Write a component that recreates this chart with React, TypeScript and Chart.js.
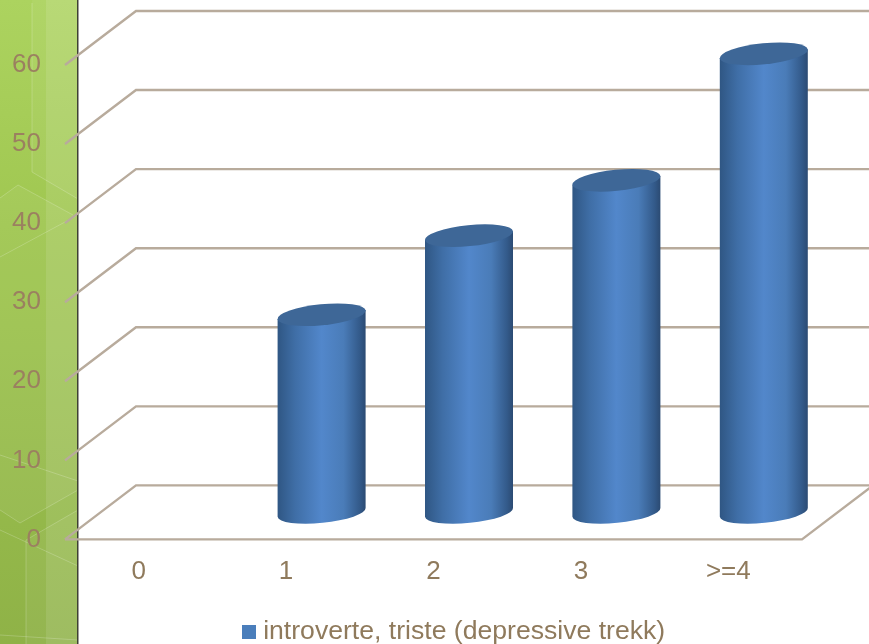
import React, { useEffect, useRef } from "react";
import { Chart, registerables } from "chart.js";

Chart.register(...registerables);

const categories = ["0", "1", "2", "3", ">=4"];
const seriesName = "introverte, triste (depressive trekk)";
const seriesValues = [null, 25, 35, 42, 58];
const axisTicks = [0, 10, 20, 30, 40, 50, 60];

const LABEL_FONT = "'Liberation Sans', Arial, sans-serif";
const LABEL_COLOR = "#8f7a5c";
const VALUE_TICK_COLOR = "#9b8060";
const GRID_COLOR = "#b8ab9c";
const SERIES_COLOR = "#4a7ebb";

// Depth of the pseudo-3D floor, front edge to back wall.
const DEPTH_X = 71;
const DEPTH_Y = 54;
const PANEL_WIDTH = 78;

// Lighter hexagon facets on the side panel, clipped by its edges.
const panelFacets: number[][][] = [
  [[32, 0], [32, 172], [78, 199], [78, 0]],
  [[0, 198], [18, 185], [78, 218], [78, 490], [20, 523], [0, 510]],
  [[26, 540], [78, 510], [78, 644], [26, 644]],
];

// Thin outlines on the side panel: polylines of [x, y].
const panelLines: number[][][] = [
  [[32, 3], [32, 172], [78, 199]],
  [[0, 198], [18, 185], [73, 215]],
  [[0, 257], [78, 215]],
  [[0, 455], [78, 481]],
  [[0, 510], [20, 523], [78, 490]],
  [[26, 540], [78, 510]],
  [[0, 530], [78, 566]],
  [[26, 540], [26, 644]],
  [[0, 635], [78, 640]],
];

function tracePolyline(ctx: CanvasRenderingContext2D, points: number[][]) {
  ctx.beginPath();
  points.forEach(([x, y], i) => (i ? ctx.lineTo(x, y) : ctx.moveTo(x, y)));
}

const sidePanel = {
  id: "sidePanel",
  beforeDraw(chart: any) {
    const { ctx, height } = chart;
    ctx.save();
    const fill = ctx.createLinearGradient(0, 0, 0, height);
    fill.addColorStop(0, "#acd35f");
    fill.addColorStop(0.35, "#a0c751");
    fill.addColorStop(1, "#8fb247");
    ctx.fillStyle = fill;
    ctx.fillRect(0, 0, PANEL_WIDTH, height);
    ctx.fillStyle = "rgba(255,255,255,0.05)";
    for (const facet of panelFacets) {
      tracePolyline(ctx, facet);
      ctx.closePath();
      ctx.fill();
    }
    ctx.fillStyle = "rgba(255,255,255,0.1)";
    ctx.fillRect(46, 0, PANEL_WIDTH - 46, height);
    ctx.strokeStyle = "rgba(255,255,255,0.2)";
    ctx.lineWidth = 1;
    for (const line of panelLines) {
      tracePolyline(ctx, line);
      ctx.stroke();
    }
    ctx.fillStyle = "#3f4034";
    ctx.fillRect(PANEL_WIDTH - 1, 0, 1.5, height);
    ctx.restore();
  },
};

const perspectiveGrid = {
  id: "perspectiveGrid",
  beforeDatasetsDraw(chart: any) {
    const { ctx, chartArea, scales } = chart;
    ctx.save();
    ctx.strokeStyle = GRID_COLOR;
    ctx.lineWidth = 2.4;
    ctx.lineJoin = "miter";
    for (const tick of axisTicks) {
      const y = scales.y.getPixelForValue(tick);
      ctx.beginPath();
      ctx.moveTo(chartArea.left, y);
      ctx.lineTo(chartArea.left + DEPTH_X, y - DEPTH_Y);
      ctx.lineTo(chart.width + 2, y - DEPTH_Y);
      ctx.stroke();
    }
    // Front and right edges of the floor.
    ctx.beginPath();
    ctx.moveTo(chartArea.left, chartArea.bottom);
    ctx.lineTo(chartArea.right, chartArea.bottom);
    ctx.lineTo(chartArea.right + DEPTH_X, chartArea.bottom - DEPTH_Y);
    ctx.stroke();
    ctx.restore();
  },
};

// Replaces the flat bars with cylinders standing halfway into the floor.
const cylinders = {
  id: "cylinders",
  beforeDatasetDraw(chart: any, args: any) {
    const { ctx } = chart;
    const tilt = -0.1;
    const cos = Math.cos(tilt);
    const sin = Math.sin(tilt);
    const values = chart.data.datasets[args.index].data;
    ctx.save();
    args.meta.data.forEach((bar: any, i: number) => {
      if (values[i] == null) return;
      const cx = bar.x + DEPTH_X / 2;
      const topY = bar.y - DEPTH_Y / 2;
      const baseY = bar.base - DEPTH_Y / 2;
      const rx = bar.width / 2;
      const ry = 10.5;
      const dx = rx * cos;
      const dy = rx * sin;

      const side = ctx.createLinearGradient(cx - rx, 0, cx + rx, 0);
      side.addColorStop(0, "#2f5683");
      side.addColorStop(0.2, "#3f6ea6");
      side.addColorStop(0.5, "#5287cb");
      side.addColorStop(0.75, "#4a7cb8");
      side.addColorStop(0.93, "#335a8a");
      side.addColorStop(1, "#2b4a72");

      ctx.beginPath();
      ctx.moveTo(cx - dx, topY - dy);
      ctx.lineTo(cx - dx, baseY - dy);
      ctx.ellipse(cx, baseY, rx, ry, tilt, Math.PI, 0, true);
      ctx.lineTo(cx + dx, topY + dy);
      ctx.closePath();
      ctx.fillStyle = side;
      ctx.fill();

      ctx.beginPath();
      ctx.ellipse(cx, topY, rx, ry, tilt, 0, Math.PI * 2);
      ctx.fillStyle = "#3e6797";
      ctx.fill();
    });
    ctx.restore();
    return false;
  },
};

// Nudges the legend row right and down from its default slot under the axis.
const legendPlacement = {
  id: "legendPlacement",
  afterLayout(chart: any) {
    const legend = chart.legend;
    if (!legend) return;
    legend.left += 56;
    legend.right += 56;
    legend.top += 11;
    legend.bottom += 11;
  },
};

function makeSwatch() {
  const swatch = document.createElement("canvas");
  swatch.width = 14;
  swatch.height = 14;
  const ctx = swatch.getContext("2d");
  if (ctx) {
    ctx.fillStyle = SERIES_COLOR;
    ctx.fillRect(0, 0, 14, 14);
  }
  return swatch;
}

export default function App() {
  const canvasRef = useRef<HTMLCanvasElement | null>(null);

  useEffect(() => {
    if (!canvasRef.current) return;
    const chart = new Chart(canvasRef.current, {
      type: "bar",
      data: {
        labels: categories,
        datasets: [
          {
            label: seriesName,
            data: seriesValues,
            backgroundColor: SERIES_COLOR,
            barPercentage: 0.6,
            categoryPercentage: 1,
          },
        ],
      },
      plugins: [sidePanel, perspectiveGrid, cylinders, legendPlacement],
      options: {
        responsive: false,
        animation: false,
        layout: { padding: { top: 65, right: 67, left: 0, bottom: 0 } },
        plugins: {
          tooltip: { enabled: false },
          title: { display: false },
          legend: {
            position: "bottom",
            labels: {
              usePointStyle: true,
              pointStyle: makeSwatch(),
              boxWidth: 1,
              boxHeight: 14,
              padding: 5,
              color: LABEL_COLOR,
              font: { family: LABEL_FONT, size: 26.6 },
            },
          },
        },
        scales: {
          x: {
            grid: { display: false },
            border: { display: false },
            afterFit(scale: any) {
              scale.height = 63;
            },
            ticks: {
              color: LABEL_COLOR,
              padding: 9,
              maxRotation: 0,
              font: { family: LABEL_FONT, size: 26 },
            },
          },
          y: {
            min: 0,
            max: 60,
            grid: { display: false },
            border: { display: false },
            afterFit(scale: any) {
              scale.width = 65;
            },
            afterBuildTicks(scale: any) {
              scale.ticks = axisTicks.map((value) => ({ value }));
            },
            ticks: {
              color: VALUE_TICK_COLOR,
              padding: 16,
              font: { family: LABEL_FONT, size: 26 },
            },
          },
        },
      },
    } as any);
    return () => chart.destroy();
  }, []);

  return (
    <div style={{ position: "fixed", left: 0, top: 0, width: 869, height: 644, background: "#fff", overflow: "hidden" }}>
      <canvas ref={canvasRef} width={869} height={644} style={{ display: "block" }} />
    </div>
  );
}
